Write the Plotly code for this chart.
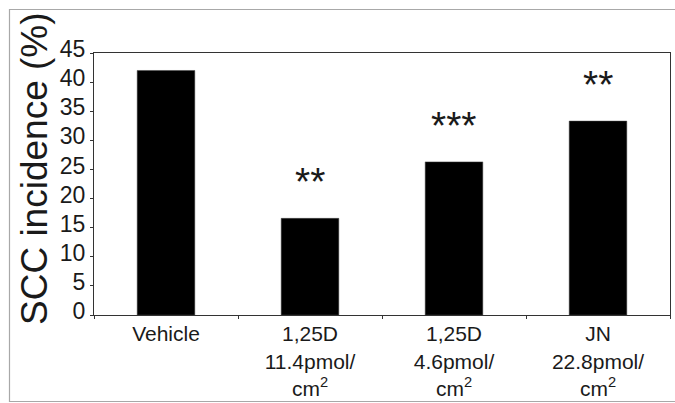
import plotly.graph_objects as go

categories = ["Vehicle", "1,25D<br>11.4pmol/<br>cm<sup>2</sup>", "1,25D<br>4.6pmol/<br>cm<sup>2</sup>", "JN<br>22.8pmol/<br>cm<sup>2</sup>"]
values = [42.0, 16.6, 26.3, 33.3]
significance = ["", "**", "***", "**"]
y_ticks = [0, 5, 10, 15, 20, 25, 30, 35, 40, 45]

W, H = 675, 403
L, R, T, B = 94, 5, 53, 88
pw, ph = W - L - R, H - T - B

fig = go.Figure()
fig.add_trace(go.Bar(x=categories, y=values, marker=dict(color="black", line=dict(color="#444", width=0.5)),
                     showlegend=False, hoverinfo="skip"))

for c, v, s in zip(categories, values, significance):
    if s:
        fig.add_annotation(x=c, y=v, xref="x", yref="y", text=s, showarrow=False,
                           yanchor="bottom", yshift=13,
                           font=dict(family="Liberation Sans, Arial, sans-serif", size=39, color="#1a1a1a"))

fig.add_annotation(x=(34 - L) / pw, y=(H - B - 169) / ph, xref="paper", yref="paper",
                   text="SCC incidence (%)", textangle=-90, showarrow=False,
                   xanchor="center", yanchor="middle",
                   font=dict(family="Liberation Sans, Arial, sans-serif", size=37, color="#1a1a1a"))

fig.add_shape(type="rect", xref="paper", yref="paper",
              x0=(9.5 - L) / pw, x1=(W + 5 - L) / pw,
              y0=(H - B - 401.5) / ph, y1=(H - B - 9.5) / ph,
              line=dict(color="#a8a8a8", width=1.2), fillcolor="rgba(0,0,0,0)", layer="below")

fig.update_layout(
    width=W, height=H,
    margin=dict(l=L, r=R, t=T, b=B, pad=0, autoexpand=False),
    paper_bgcolor="white", plot_bgcolor="white",
    bargap=0.6,
    font=dict(family="Liberation Sans, Arial, sans-serif", color="#1a1a1a"),
    xaxis=dict(showline=True, linecolor="#333", linewidth=1.2, mirror=True, automargin=False,
               ticks="outside", ticklen=3, tickcolor="#333", tickson="boundaries",
               tickfont=dict(size=21), showgrid=False, fixedrange=True),
    yaxis=dict(range=[0, 45], tickvals=y_ticks, showline=True, linecolor="#333", linewidth=1.2, mirror=True,
               automargin=False,
               ticks="outside", ticklen=3, tickcolor="#333",
               tickfont=dict(size=23), showgrid=False, zeroline=False, fixedrange=True,
               ticklabelshift=-4, ticklabelstandoff=0),
)

fig.write_html("out.html")
